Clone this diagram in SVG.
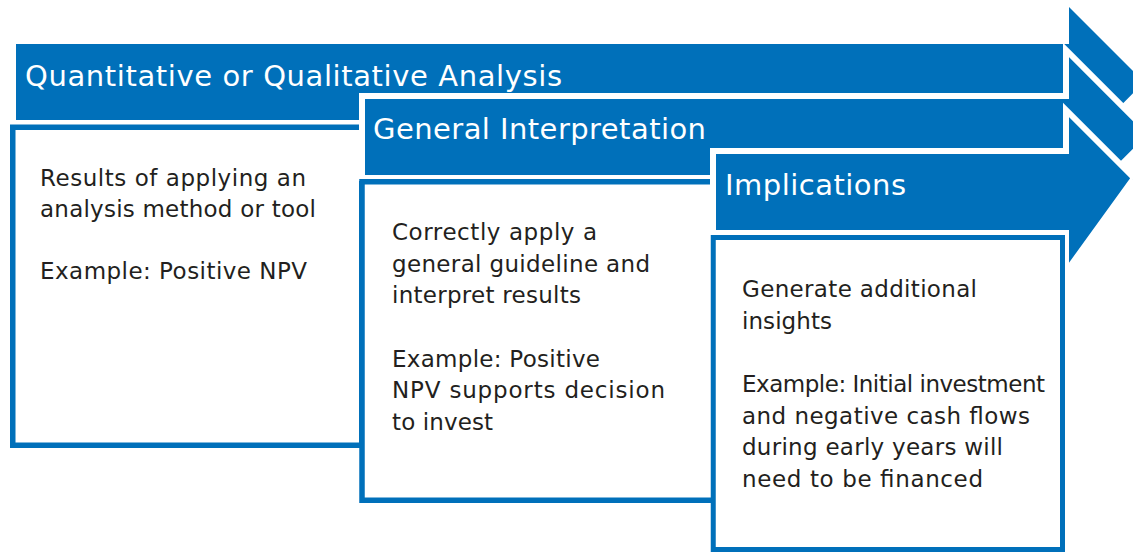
<svg xmlns="http://www.w3.org/2000/svg" width="1133" height="552" viewBox="0 0 1133 552">
  <style>
    .arrow { fill: #0070BA; }
    .outlined { stroke: #FFFFFF; stroke-width: 6; stroke-linejoin: miter; }
    .box { fill: #FFFFFF; stroke: #0070BA; stroke-width: 5.5; }
    .title { font-family: "DejaVu Sans", "Liberation Sans", sans-serif; font-size: 29px; fill: #FFFFFF; }
    .body { font-family: "DejaVu Sans", "Liberation Sans", sans-serif; font-size: 23px; fill: #231F20; }
  </style>
  <g id="connectors"></g>
  <g id="step1-header">
    <polygon class="arrow" points="16,44 1069,44 1069,7 1144,82 1069,158 1069,120 16,120"/>
    <text class="title" x="25" y="86" textLength="537">Quantitative or Qualitative Analysis</text>
  </g>
  <g id="step1-box">
    <rect class="box" x="12.75" y="127.25" width="349" height="318"/>
    <text class="body" x="40" y="186" textLength="266">Results of applying an</text>
    <text class="body" x="40" y="217" textLength="276">analysis method or tool</text>
    <text class="body" x="40" y="279" textLength="267">Example: Positive NPV</text>
  </g>
  <g id="step2-header">
    <polygon class="arrow outlined" points="362,96 1066,96 1066,50 1151,135 1066,220 1066,178 362,178"/>
    <text class="title" x="373" y="139" textLength="333">General Interpretation</text>
  </g>
  <g id="step2-box">
    <rect class="box" x="362" y="181.75" width="352" height="318.5"/>
    <text class="body" x="392" y="240" textLength="205">Correctly apply a</text>
    <text class="body" x="392" y="271.7" textLength="258">general guideline and</text>
    <text class="body" x="392" y="303.3" textLength="189">interpret results</text>
    <text class="body" x="392" y="366.7" textLength="208">Example: Positive</text>
    <text class="body" x="392" y="398.3" textLength="273">NPV supports decision</text>
    <text class="body" x="392" y="430" textLength="101">to invest</text>
  </g>
  <g id="step3-header">
    <polygon class="arrow outlined" points="713,151 1066,151 1066,110 1134,178 1066,272 1066,233 713,233"/>
    <text class="title" x="725" y="195" textLength="181">Implications</text>
  </g>
  <g id="step3-box">
    <rect class="box" x="713.25" y="237.5" width="349.25" height="312" style="stroke-width:5"/>
    <text class="body" x="742" y="297" textLength="235">Generate additional</text>
    <text class="body" x="742" y="328.7" textLength="90">insights</text>
    <text class="body" x="742" y="392" textLength="303">Example: Initial investment</text>
    <text class="body" x="742" y="423.7" textLength="288">and negative cash flows</text>
    <text class="body" x="742" y="455.3" textLength="261">during early years will</text>
    <text class="body" x="742" y="487" textLength="241">need to be financed</text>
  </g>
</svg>
